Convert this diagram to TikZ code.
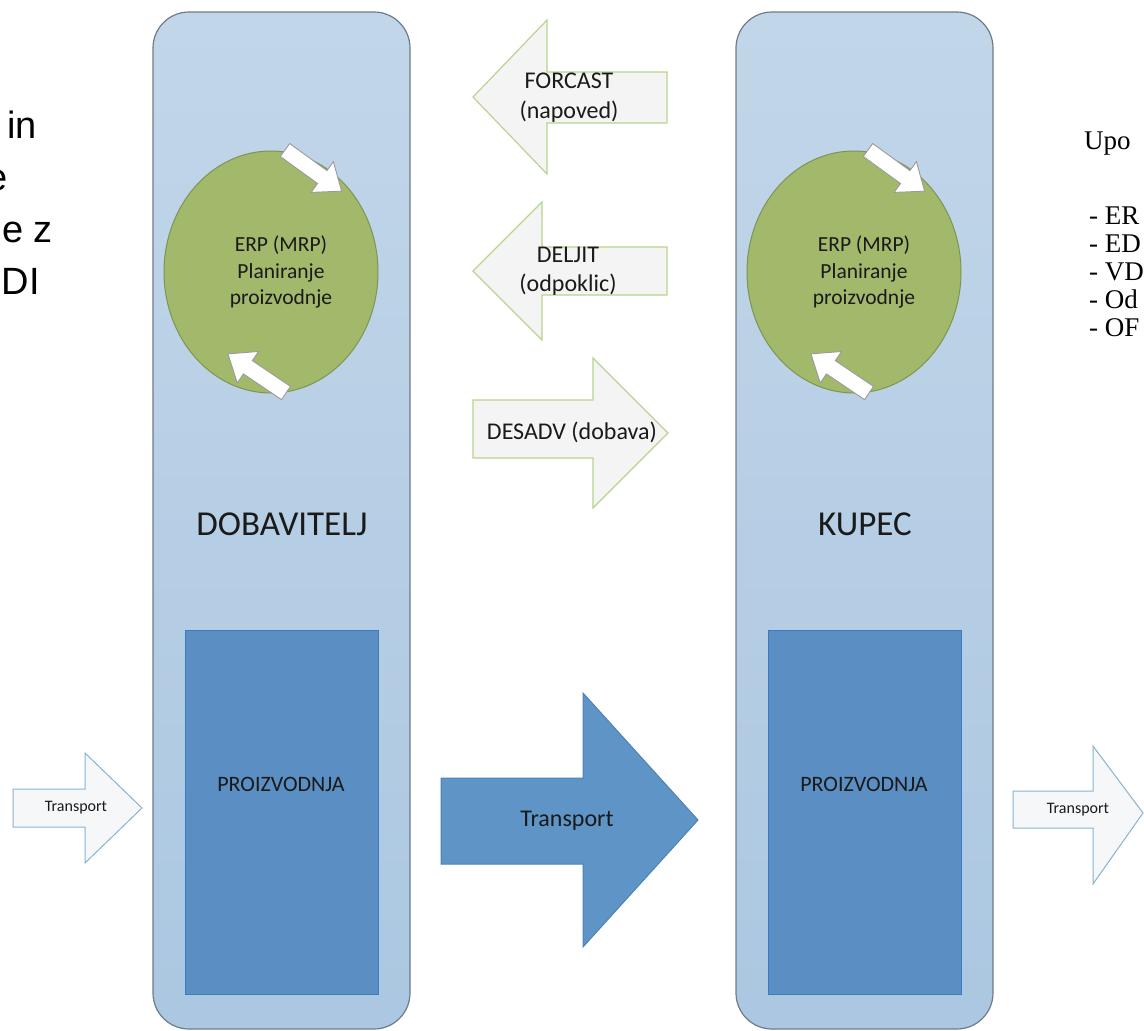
\documentclass[tikz,border=0pt]{standalone}
\usepackage{fontspec}
\setmainfont{Carlito}
\newfontfamily\arialf{Liberation Sans}
\newfontfamily\timesf{Liberation Serif}
\definecolor{colfillT}{HTML}{C2D6E9}
\definecolor{colfillB}{HTML}{ABC7E1}
\definecolor{colline}{HTML}{6E7B88}
\definecolor{circfill}{HTML}{A2B96C}
\definecolor{circline}{HTML}{7D9550}
\definecolor{prodfill}{HTML}{5B8EC2}
\definecolor{prodline}{HTML}{3B7CC0}
\definecolor{bigfill}{HTML}{5F94C6}
\definecolor{bigline}{HTML}{4C82B8}
\definecolor{smfill}{HTML}{F5F7F9}
\definecolor{smline}{HTML}{8CB2CE}
\definecolor{grfill}{HTML}{F4F4F4}
\definecolor{grline}{HTML}{B7D58E}
\definecolor{wline}{HTML}{9A9A9A}
\definecolor{txt}{HTML}{1A1A1A}
\tikzset{
  column/.style={draw=colline, line width=1.2pt, top color=colfillT, bottom color=colfillB, rounded corners=36pt},
  erpcirc/.style={draw=circline, line width=1pt, fill=circfill},
  prodbox/.style={draw=prodline, line width=1pt, fill=prodfill},
  bigarrow/.style={draw=bigline, line width=1pt, fill=bigfill},
  smallarrow/.style={draw=smline, line width=1pt, fill=smfill},
  msgarrow/.style={draw=grline, line width=1.2pt, fill=grfill},
  lbl/.style={text=txt, align=center, inner sep=0pt},
  lefttext/.style={inner sep=0pt, anchor=base east, text=black, font=\arialf\fontsize{38}{46}\selectfont},
  righttext/.style={inner sep=0pt, anchor=base west, text=black, font=\timesf\fontsize{27}{28}\selectfont},
  pics/circarrow/.style={code={
    \filldraw[fill=white, draw=wline, line width=0.9pt, line join=miter]
      (0,-8) -- (46,-8) -- (46,-19) -- (70,0) -- (46,19) -- (46,8) -- (0,8) -- cycle;}}
}
\begin{document}
\begin{tikzpicture}[x=1pt, y=-1pt]
\useasboundingbox (0,0) rectangle (1144,1031);
\clip (0,0) rectangle (1144,1031);
\fill[white] (0,0) rectangle (1144,1031);

% columns
\path[column] (153,12) rectangle (410,1029);
\path[column] (736,12) rectangle (993,1029);

% ERP circles
\path[erpcirc] (271,272) ellipse [x radius=107, y radius=121];
\path[erpcirc] (854,272) ellipse [x radius=107, y radius=121];
\pic[rotate=-36] at (285,150) {circarrow};
\pic[rotate=146] at (286,393) {circarrow};
\pic[rotate=-36] at (868,150) {circarrow};
\pic[rotate=146] at (869,393) {circarrow};
\node[lbl, font=\fontsize{21.5}{26.5}\selectfont] (erpL) at (281,272) {ERP (MRP)\\Planiranje\\proizvodnje};
\node[lbl, font=\fontsize{21.5}{26.5}\selectfont] (erpR) at (864,272) {ERP (MRP)\\Planiranje\\proizvodnje};

% titles
\node[lbl, font=\fontsize{35}{40}\selectfont] (dob) at (282,524) {DOBAVITELJ};
\node[lbl, font=\fontsize{35}{40}\selectfont] (kup) at (865,524) {KUPEC};

% production boxes
\path[prodbox] (185,630) rectangle (378,994);
\path[prodbox] (768,630) rectangle (961,994);
\node[lbl, font=\fontsize{22}{26}\selectfont] (prodL) at (281,784) {PROIZVODNJA};
\node[lbl, font=\fontsize{22}{26}\selectfont] (prodR) at (864,784) {PROIZVODNJA};

% message arrows
\path[msgarrow] (667,72) -- (547,72) -- (547,20) -- (473,97) -- (547,174) -- (547,123) -- (667,123) -- cycle;
\node[lbl, font=\fontsize{24}{30}\selectfont] (forcast) at (569,98) {FORCAST\\(napoved)};
\path[msgarrow] (667,247) -- (542,247) -- (542,202) -- (473,271) -- (542,340) -- (542,295) -- (667,295) -- cycle;
\node[lbl, font=\fontsize{24}{29}\selectfont] (deljit) at (568,271) {DELJIT\\(odpoklic)};
\path[msgarrow] (473,400) -- (593,400) -- (593,358) -- (668,433) -- (593,508) -- (593,458) -- (473,458) -- cycle;
\node[lbl, font=\fontsize{24}{29}\selectfont] (desadv) at (572,432) {DESADV (dobava)};

% transport arrows
\path[bigarrow] (441,778) -- (583,778) -- (583,693) -- (698,820) -- (583,947) -- (583,864) -- (441,864) -- cycle;
\node[lbl, font=\fontsize{24}{29}\selectfont] (transB) at (567,821) {Transport};
\path[smallarrow] (13,789) -- (85,789) -- (85,753) -- (142,808) -- (85,863) -- (85,827) -- (13,827) -- cycle;
\node[lbl, font=\fontsize{16}{20}\selectfont] (transL) at (76,808) {Transport};
\path[smallarrow] (1013,791) -- (1093,791) -- (1093,746) -- (1143,813) -- (1093,884) -- (1093,828) -- (1013,828) -- cycle;
\node[lbl, font=\fontsize{16}{20}\selectfont] (transR) at (1078,810) {Transport};

% left clipped text
\node[lefttext] (lt1) at (37,138) {in};
\node[lefttext] (lt2) at (8,190) {e};
\node[lefttext] (lt3) at (53,242) {e z};
\node[lefttext] (lt4) at (40,294) {DI};

% right clipped text
\node[righttext] (rt0) at (1084,149) {Upo};
\node[righttext] (rt1) at (1089,224) {- ER};
\node[righttext] (rt2) at (1089,252) {- ED};
\node[righttext] (rt3) at (1089,280) {- VD};
\node[righttext] (rt4) at (1089,308) {- Od};
\node[righttext] (rt5) at (1089,336) {- OF};
\end{tikzpicture}
\end{document}
